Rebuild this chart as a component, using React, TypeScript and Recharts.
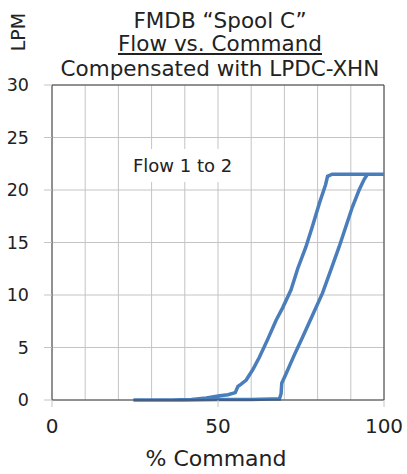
import { LineChart, Line, XAxis, YAxis, CartesianGrid, ReferenceLine } from 'recharts';

// loop path: rising branch (right curve), then falling branch (left curve)
const command = [
  24.5, 30, 40, 50, 60, 66, 68.5, 69, 69.2, 70.5, 73, 75.5, 78.5, 81.5, 84, 86.5, 88.5, 90.5, 92.5, 94, 95, 100,
  84.4, 83, 82.4, 80.5, 78.5, 76.5, 74, 72, 69.5, 67.5, 65, 62.5, 60.5, 58.5, 56.5, 56, 55.2, 53, 50.5, 46.5, 42, 36
];
const flow = [
  0, 0, 0, 0.05, 0.05, 0.1, 0.1, 0.6, 1.6, 2.5, 4.3, 6, 8.1, 10.2, 12.4, 14.6, 16.5, 18.4, 20, 21, 21.5, 21.5,
  21.5, 21.3, 20.5, 18.7, 16.6, 14.6, 12.5, 10.5, 8.8, 7.6, 5.8, 4.1, 2.9, 1.9, 1.4, 1.3, 0.7, 0.5, 0.4, 0.2, 0.05, 0
];
const xGridTicks = [0, 10, 20, 30, 40, 50, 60, 70, 80, 90, 100];
const xLabelTicks = [0, 50, 100];
const yTicks = [0, 5, 10, 15, 20, 25, 30];

const data = command.map((c, i) => ({ cmd: c, lpm: flow[i] }));

const FONT = '"DejaVu Sans", Verdana, sans-serif';
const TEXT = '#222';
const GRID = '#c4c4c4';
const AXIS = '#404040';

const XTick = (props: any) => {
  const { x, y, payload } = props;
  if (!xLabelTicks.includes(payload.value)) return null;
  return (
    <g>
      <line x1={x} x2={x} y1={y - 19} y2={y - 12} stroke={GRID} />
      <text x={x} y={y} dy="0.71em" textAnchor="middle" fill={TEXT} fontSize={20} fontFamily={FONT}>
        {payload.value}
      </text>
    </g>
  );
};

const titleLine = (top: number, underline = false): React.CSSProperties => ({
  position: 'absolute',
  left: 0,
  width: 440,
  top,
  textAlign: 'center',
  fontSize: 21.5,
  lineHeight: '24px',
  whiteSpace: 'nowrap',
  textDecoration: underline ? 'underline' : 'none',
});

export default function App() {
  return (
    <div style={{ position: 'absolute', left: 0, top: 0, width: 407, height: 474, background: '#fff', fontFamily: FONT, color: TEXT }}>
      <LineChart width={407} height={474} data={data} margin={{ top: 85, right: 23, bottom: 0, left: 0 }}>
        <CartesianGrid stroke={GRID} />
        <XAxis
          dataKey="cmd"
          type="number"
          domain={[0, 100]}
          ticks={xGridTicks}
          interval={0}
          tick={<XTick />}
          tickLine={false}
          tickSize={0}
          tickMargin={19}
          axisLine={{ stroke: AXIS }}
          height={74}
        />
        <YAxis
          type="number"
          domain={[0, 30]}
          ticks={yTicks}
          interval={0}
          width={52}
          tickSize={8}
          tickMargin={15}
          tickLine={{ stroke: GRID }}
          axisLine={{ stroke: AXIS }}
          tick={{ fill: TEXT, fontSize: 17.5, fontFamily: FONT }}
        />
        <ReferenceLine y={30} stroke={AXIS} />
        <ReferenceLine x={100} stroke={AXIS} />
        <Line
          dataKey="lpm"
          type="linear"
          stroke="#4a7ebb"
          strokeWidth={3.5}
          dot={false}
          isAnimationActive={false}
        />
      </LineChart>
      <div style={titleLine(9)}>FMDB “Spool C”</div>
      <div style={titleLine(32, true)}>Flow vs. Command</div>
      <div style={titleLine(57)}>Compensated with LPDC-XHN</div>
      <div
        style={{
          position: 'absolute',
          left: 18,
          top: 32,
          transform: 'translate(-50%, -50%) rotate(-90deg)',
          fontSize: 19,
          lineHeight: '20px',
          whiteSpace: 'nowrap',
        }}
      >
        LPM
      </div>
      <div style={{ position: 'absolute', left: 127, top: 149, padding: '4px 6px', background: '#fff', fontSize: 18, lineHeight: '25px', whiteSpace: 'nowrap' }}>
        Flow 1 to 2
      </div>
      <div style={{ position: 'absolute', left: 0, width: 432, top: 446, textAlign: 'center', fontSize: 22, lineHeight: '26px' }}>
        % Command
      </div>
    </div>
  );
}
